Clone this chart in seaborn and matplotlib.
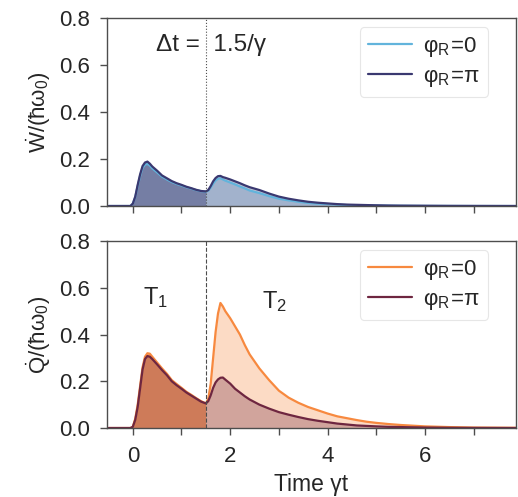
import numpy as np
import pandas as pd
import seaborn as sns
import matplotlib.pyplot as plt
from matplotlib.ticker import MultipleLocator, FuncFormatter

# Values
time = [-0.5, -0.05, 0.0, 0.05, 0.1, 0.15, 0.2, 0.25, 0.3, 0.35, 0.4,
        0.5, 0.6, 0.7, 0.8, 0.9, 1.0, 1.1, 1.2, 1.3, 1.4, 1.5,
        1.55, 1.6, 1.65, 1.7, 1.75, 1.8, 1.85, 1.9,
        2.0, 2.1, 2.2, 2.3, 2.4, 2.6, 2.8, 3.0, 3.2, 3.4, 3.6, 3.8,
        4.0, 4.2, 4.4, 4.6, 4.8, 5.0, 5.25, 5.5, 6.0, 6.5, 7.0, 7.9]

# work rate, phi_R = 0 (light blue) and phi_R = pi (navy)
w_phi0 = [0, 0, 0.01, 0.038, 0.085, 0.128, 0.162, 0.176, 0.179, 0.172, 0.16,
          0.143, 0.125, 0.113, 0.102, 0.094, 0.087, 0.08, 0.074, 0.068, 0.063, 0.061,
          0.065, 0.078, 0.095, 0.108, 0.116, 0.118, 0.113, 0.108,
          0.1, 0.092, 0.083, 0.075, 0.066, 0.055, 0.042, 0.031, 0.024, 0.018, 0.013, 0.01,
          0.008, 0.006, 0.004, 0.003, 0.0025, 0.002, 0.0015, 0.001, 0.0005, 0.0003, 0.0001, 0]
w_phipi = [0, 0, 0.01, 0.04, 0.09, 0.135, 0.17, 0.185, 0.189, 0.18, 0.168,
           0.15, 0.13, 0.118, 0.106, 0.097, 0.09, 0.082, 0.076, 0.069, 0.064, 0.062,
           0.068, 0.085, 0.105, 0.119, 0.127, 0.128, 0.123, 0.12,
           0.113, 0.105, 0.097, 0.088, 0.08, 0.068, 0.053, 0.04, 0.031, 0.024, 0.018, 0.014,
           0.011, 0.008, 0.006, 0.005, 0.004, 0.003, 0.002, 0.0015, 0.001, 0.0005, 0.0003, 0]

# heat rate, phi_R = 0 (orange) and phi_R = pi (maroon)
q_phi0 = [0, 0, 0.005, 0.04, 0.1, 0.18, 0.26, 0.305, 0.32, 0.318, 0.305,
          0.28, 0.255, 0.232, 0.205, 0.188, 0.172, 0.155, 0.142, 0.128, 0.115, 0.105,
          0.125, 0.19, 0.3, 0.41, 0.49, 0.535, 0.52, 0.5,
          0.47, 0.435, 0.4, 0.355, 0.315, 0.255, 0.205, 0.16, 0.13, 0.108, 0.09, 0.076,
          0.062, 0.05, 0.042, 0.034, 0.027, 0.022, 0.017, 0.013, 0.007, 0.004, 0.002, 0.001]
q_phipi = [0, 0, 0.005, 0.035, 0.09, 0.17, 0.25, 0.295, 0.308, 0.305, 0.295,
           0.272, 0.248, 0.226, 0.2, 0.183, 0.168, 0.152, 0.139, 0.126, 0.113, 0.105,
           0.115, 0.14, 0.172, 0.195, 0.208, 0.215, 0.216, 0.207,
           0.19, 0.168, 0.152, 0.136, 0.122, 0.1, 0.083, 0.068, 0.057, 0.047, 0.038, 0.031,
           0.025, 0.019, 0.015, 0.011, 0.009, 0.007, 0.005, 0.004, 0.002, 0.001, 0.0005, 0]

t_switch = 1.5
legend_labels = [r'$\mathrm{\varphi_R\!=\!0}$', r'$\mathrm{\varphi_R\!=\!\pi}$']

sns.set_style("ticks")
plt.rcParams['font.family'] = ['Liberation Sans', 'DejaVu Sans']
plt.rcParams['mathtext.fontset'] = 'custom'
plt.rcParams['mathtext.rm'] = 'Liberation Sans'
plt.rcParams['mathtext.it'] = 'Liberation Sans:italic'
plt.rcParams['mathtext.bf'] = 'Liberation Sans:bold'
plt.rcParams['mathtext.sf'] = 'Liberation Sans'

df = pd.DataFrame({"t": time, "w0": w_phi0, "wpi": w_phipi, "q0": q_phi0, "qpi": q_phipi})
t = df["t"].values
left = t <= t_switch
right = t >= t_switch

fig = plt.figure(figsize=(5.18, 4.97), dpi=100)
ax1 = fig.add_axes([0.2066, 0.5855, 0.7894, 0.3783])
ax2 = fig.add_axes([0.2066, 0.1388, 0.7894, 0.3762])

panels = [
    (ax1, "w0", "wpi", "#62b4dc", "#3a3870", (0.3, 0.6), (0.3, 0.3), ':',
     r'$\dot{\mathrm{W}}\mathrm{/(\hbar\omega_0)}$'),
    (ax2, "q0", "qpi", "#f7893f", "#6e2640", (0.8, 0.3), (0.3, 0.3), '--',
     r'$\dot{\mathrm{Q}}\mathrm{/(\hbar\omega_0)}$'),
]

for ax, c0, cpi, col0, colpi, a_left, a_right, ls, ylab in panels:
    ax.fill_between(t, df[c0], where=left, color=col0, alpha=a_left[0], lw=0)
    ax.fill_between(t, df[cpi], where=left, color=colpi, alpha=a_left[1], lw=0)
    ax.fill_between(t, df[c0], where=right, color=col0, alpha=a_right[0], lw=0)
    ax.fill_between(t, df[cpi], where=right, color=colpi, alpha=a_right[1], lw=0)
    sns.lineplot(data=df, x="t", y=c0, color=col0, lw=1.6, label=legend_labels[0], ax=ax)
    sns.lineplot(data=df, x="t", y=cpi, color=colpi, lw=1.6, label=legend_labels[1], ax=ax)
    ax.axvline(t_switch, color='0.3', ls=ls, lw=0.8)
    ax.set_xlim(-0.53, 7.87)
    ax.set_ylim(0, 0.8)
    ax.set_yticks([0, 0.2, 0.4, 0.6, 0.8])
    ax.yaxis.set_major_formatter(FuncFormatter(lambda v, p: f"{v:.1f}"))
    ax.xaxis.set_major_locator(MultipleLocator(1))
    ax.tick_params(labelsize=16, length=5, width=1, color='0.3')
    ax.tick_params(axis='y', pad=7)
    ax.tick_params(axis='x', pad=8)
    ax.set_ylabel(ylab, fontsize=16, labelpad=5)
    for sp in ax.spines.values():
        sp.set_color('0.3')
        sp.set_linewidth(1)
    leg = ax.legend(loc='upper right', bbox_to_anchor=(0.932, 0.95), borderaxespad=0,
                    fontsize=16, frameon=True, handlelength=2.0, handletextpad=0.5,
                    labelspacing=0.3, borderpad=0.35)
    leg.get_frame().set_edgecolor('0.88')
    leg.get_frame().set_linewidth(0.8)

ax1.set_xlabel("")
ax1.set_xticklabels([])
ax2.xaxis.set_major_formatter(FuncFormatter(lambda v, p: f"{v:.0f}" if int(round(v)) % 2 == 0 else ""))
ax2.set_xlabel("Time γt", fontsize=16.5, labelpad=4)

ax1.text(0.47, 0.685, "Δt =  1.5/γ", fontsize=17.5, va='center', ha='left')
ax2.text(0.2, 0.56, r'$\mathrm{T_1}$', fontsize=17, va='center', ha='left')
ax2.text(2.66, 0.54, r'$\mathrm{T_2}$', fontsize=17, va='center', ha='left')

fig.savefig("out.png", dpi=100)
plt.close(fig)
